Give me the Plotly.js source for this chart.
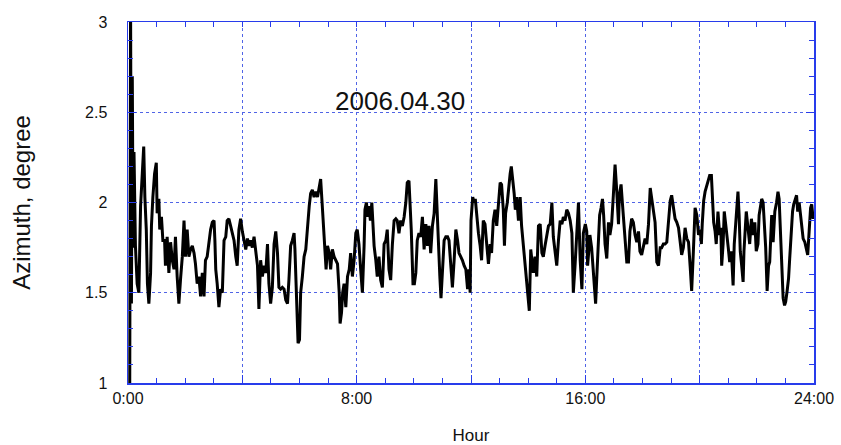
<!DOCTYPE html>
<html>
<head>
<meta charset="utf-8">
<script src="https://cdn.plot.ly/plotly-3.0.1.min.js"></script>
<style>
  html, body { margin: 0; padding: 0; background: #ffffff; }
  #chart { width: 841px; height: 445px; }
</style>
</head>
<body>
<div id="chart"></div>
<script>
// Hours (0-4)
const hoursA = [0.06,0.09,0.12,0.15,0.18,0.21,0.26,0.32,0.38,0.44,0.50,0.55,0.59,0.64,0.68,0.73,0.79,0.82,0.87,0.93,0.99,1.02,1.08,1.11,1.17,1.22,1.28,1.31,1.37,1.43,1.49,1.55,1.61,1.66,1.72,1.78,1.84,1.90,1.96,2.01,2.07,2.13,2.19,2.25,2.31,2.36,2.42,2.48,2.54,2.60,2.66,2.71,2.77,2.83,2.89,2.95,3.01,3.04,3.07,3.12,3.18,3.24,3.30,3.36,3.42,3.47,3.53,3.59,3.65,3.71,3.77,3.82,3.88,3.94];
const azimuthA = [0.95,3.10,1.44,2.70,1.75,2.28,1.76,1.55,1.50,1.98,2.16,2.31,2.03,1.85,1.55,1.44,1.61,1.87,2.03,2.16,2.22,1.94,2.02,1.85,1.92,1.79,1.79,1.65,1.81,1.61,1.78,1.68,1.63,1.81,1.59,1.44,1.58,1.70,1.90,1.70,1.85,1.70,1.74,1.76,1.72,1.66,1.55,1.59,1.48,1.61,1.48,1.68,1.70,1.78,1.85,1.89,1.90,1.79,1.63,1.55,1.42,1.52,1.50,1.79,1.81,1.90,1.91,1.87,1.83,1.79,1.70,1.65,1.85,1.91];

// Hours (4-8)
const hoursB = [4.00,4.06,4.12,4.18,4.23,4.29,4.35,4.41,4.47,4.53,4.58,4.64,4.70,4.76,4.82,4.88,4.93,4.99,5.05,5.11,5.17,5.23,5.28,5.34,5.40,5.46,5.52,5.58,5.63,5.69,5.75,5.81,5.84,5.89,5.95,6.00,6.04,6.10,6.16,6.22,6.28,6.34,6.39,6.45,6.51,6.57,6.63,6.69,6.74,6.79,6.84,6.88,6.93,6.98,7.04,7.09,7.15,7.21,7.27,7.33,7.39,7.42,7.47,7.51,7.56,7.62,7.68,7.74,7.79,7.85,7.91,7.97];
const azimuthB = [1.84,1.79,1.74,1.80,1.76,1.79,1.75,1.81,1.74,1.65,1.41,1.68,1.59,1.65,1.61,1.77,1.55,1.44,1.53,1.77,1.84,1.72,1.53,1.52,1.53,1.52,1.46,1.44,1.57,1.76,1.79,1.83,1.74,1.53,1.22,1.24,1.50,1.59,1.70,1.74,1.87,1.98,2.05,2.07,2.03,2.06,2.03,2.09,2.13,2.00,1.87,1.74,1.63,1.76,1.72,1.63,1.74,1.70,1.68,1.66,1.50,1.33,1.39,1.50,1.55,1.42,1.59,1.63,1.72,1.59,1.68,1.83];

// Hours (8-12)
const hoursC = [8.02,8.08,8.14,8.20,8.26,8.29,8.34,8.39,8.43,8.48,8.53,8.57,8.61,8.67,8.72,8.78,8.84,8.90,8.96,9.02,9.07,9.13,9.19,9.25,9.31,9.37,9.42,9.48,9.54,9.60,9.66,9.72,9.77,9.83,9.87,9.91,9.97,10.02,10.07,10.12,10.18,10.24,10.30,10.36,10.42,10.48,10.53,10.59,10.65,10.71,10.77,10.80,10.85,10.91,10.95,11.00,11.06,11.12,11.18,11.23,11.29,11.35,11.41,11.47,11.53,11.58,11.64,11.70,11.76,11.82,11.88,11.93,11.97];
const azimuthC = [1.85,1.77,1.63,1.50,1.76,1.96,2.00,1.92,1.98,1.90,2.00,1.87,1.76,1.68,1.59,1.70,1.57,1.53,1.77,1.79,1.85,1.63,1.57,1.77,1.90,1.91,1.90,1.83,1.90,1.87,1.92,2.00,2.11,2.12,2.01,1.85,1.55,1.55,1.61,1.79,1.83,1.81,1.92,1.74,1.88,1.76,1.87,1.72,1.87,1.94,2.13,2.00,1.77,1.59,1.47,1.63,1.79,1.81,1.81,1.79,1.66,1.53,1.68,1.85,1.79,1.72,1.70,1.68,1.65,1.63,1.52,1.63,1.50];

// Hours (12-16)
const hoursD = [12.00,12.06,12.11,12.15,12.20,12.26,12.32,12.37,12.43,12.49,12.55,12.61,12.67,12.72,12.78,12.84,12.90,12.96,13.02,13.07,13.13,13.17,13.21,13.27,13.32,13.37,13.41,13.46,13.51,13.55,13.60,13.66,13.72,13.77,13.83,13.89,13.95,14.01,14.04,14.09,14.14,14.18,14.24,14.30,14.36,14.42,14.48,14.53,14.59,14.65,14.71,14.77,14.83,14.88,14.94,15.00,15.06,15.12,15.18,15.23,15.29,15.35,15.41,15.47,15.53,15.58,15.64,15.70,15.76,15.82,15.88,15.93];
const azimuthD = [1.90,2.03,2.00,2.02,1.92,1.83,1.76,1.68,1.90,1.88,1.77,1.66,1.77,1.72,1.90,1.96,1.87,1.98,2.11,2.10,1.96,1.76,1.94,2.00,2.09,2.16,2.20,2.13,2.05,1.96,2.03,1.90,2.03,1.87,1.76,1.65,1.57,1.42,1.40,1.74,1.68,1.61,1.70,1.59,1.87,1.88,1.72,1.70,1.76,1.83,1.87,1.88,2.00,1.81,1.72,1.65,1.79,1.90,1.88,1.92,1.90,1.96,1.94,1.90,1.83,1.50,1.65,1.87,2.00,1.68,1.52,1.83];

// Hours (16-20)
const hoursE = [16.00,16.05,16.08,16.13,16.16,16.22,16.27,16.32,16.36,16.41,16.46,16.50,16.55,16.60,16.64,16.69,16.75,16.81,16.86,16.92,16.98,17.04,17.10,17.16,17.19,17.25,17.30,17.34,17.39,17.45,17.51,17.56,17.62,17.68,17.74,17.80,17.86,17.91,17.97,18.03,18.09,18.15,18.21,18.27,18.32,18.38,18.44,18.50,18.56,18.62,18.67,18.73,18.79,18.85,18.91,18.97,19.02,19.08,19.14,19.20,19.26,19.32,19.37,19.43,19.49,19.55,19.61,19.67,19.72,19.78,19.84,19.90,19.96];
const azimuthE = [1.88,1.84,1.65,1.75,1.82,1.75,1.65,1.51,1.44,1.62,1.80,1.93,1.97,2.02,1.93,1.77,1.69,1.89,1.82,1.88,2.04,2.21,2.06,1.88,2.04,2.10,1.99,1.89,1.77,1.67,1.67,1.84,1.91,1.89,1.82,1.78,1.84,1.73,1.71,1.75,1.80,1.77,1.88,2.08,2.02,1.97,1.89,1.67,1.65,1.75,1.75,1.77,1.77,1.78,1.91,2.01,2.04,1.97,1.91,1.89,1.86,1.78,1.71,1.75,1.86,1.80,1.78,1.64,1.51,1.73,1.97,1.93,1.82];

// Hours (20-24)
const hoursF = [20.02,20.06,20.09,20.14,20.19,20.23,20.29,20.35,20.41,20.44,20.49,20.54,20.58,20.64,20.70,20.74,20.77,20.82,20.86,20.91,20.96,21.00,21.05,21.11,21.17,21.21,21.26,21.31,21.34,21.38,21.42,21.47,21.52,21.55,21.60,21.63,21.69,21.75,21.81,21.87,21.93,21.98,22.04,22.08,22.12,22.17,22.22,22.27,22.31,22.36,22.41,22.45,22.49,22.52,22.57,22.63,22.69,22.74,22.78,22.83,22.87,22.92,22.97,23.01,23.06,23.11,23.15,23.20,23.25,23.29,23.34,23.39,23.43,23.48,23.53,23.57,23.62,23.68,23.74,23.78,23.83,23.88,23.92,23.97,24.00];
const azimuthF = [1.85,1.77,1.88,2.01,2.06,2.08,2.12,2.15,2.15,2.06,1.89,1.84,1.77,1.95,1.82,1.86,1.65,1.77,1.95,1.88,1.82,1.75,1.67,1.73,1.54,1.77,1.88,1.99,2.06,1.93,1.73,1.65,1.56,1.73,1.91,1.95,1.86,1.77,1.91,1.82,1.89,1.73,1.77,1.93,1.97,2.02,2.00,1.88,1.75,1.51,1.65,1.67,1.88,1.93,1.78,1.95,2.00,2.06,2.02,1.80,1.63,1.47,1.43,1.45,1.51,1.58,1.69,1.84,1.95,1.99,2.02,2.04,1.95,2.00,1.93,1.86,1.80,1.78,1.73,1.71,1.84,1.97,1.99,1.91,1.93];

const xTickVals = [0, 4, 8, 12, 16, 20, 24];
const xTickText = ['0:00', '', '8:00', '', '16:00', '', '24:00'];
const dateLabel = '2006.04.30';

const hours = [].concat(hoursA, hoursB, hoursC, hoursD, hoursE, hoursF);
const azimuth = [].concat(azimuthA, azimuthB, azimuthC, azimuthD, azimuthE, azimuthF);

const AXIS_BLUE = 'rgb(40,60,235)';
const GRID_BLUE = 'rgb(80,100,230)';
const FONT = 'Liberation Sans, Arial, Helvetica, sans-serif';

const trace = {
  x: hours,
  y: azimuth,
  type: 'scatter',
  mode: 'lines',
  line: { color: '#000000', width: 3 },
  hoverinfo: 'skip',
  cliponaxis: true
};

const tickOnlyX = {
  range: [0, 24],
  overlaying: 'x',
  side: 'top',
  tickmode: 'array',
  tickvals: xTickVals,
  ticktext: ['', '', '', '', '', '', ''],
  ticks: 'inside',
  ticklen: 8,
  tickwidth: 1,
  tickcolor: AXIS_BLUE,
  showline: false,
  showgrid: false,
  zeroline: false,
  showticklabels: false,
  minor: { tick0: 0, dtick: 1, ticks: 'inside', ticklen: 5, tickcolor: AXIS_BLUE, tickwidth: 1, showgrid: false }
};

const tickOnlyY = {
  range: [1, 3],
  overlaying: 'y',
  side: 'right',
  tick0: 1,
  dtick: 0.5,
  ticks: 'inside',
  ticklen: 8,
  tickwidth: 1,
  tickcolor: AXIS_BLUE,
  showline: false,
  showgrid: false,
  zeroline: false,
  showticklabels: false,
  minor: { tick0: 1, dtick: 0.1, ticks: 'inside', ticklen: 5, tickcolor: AXIS_BLUE, tickwidth: 1, showgrid: false }
};

const layout = {
  width: 841,
  height: 445,
  margin: { l: 128, r: 27, t: 22, b: 62 },
  paper_bgcolor: '#ffffff',
  plot_bgcolor: '#ffffff',
  showlegend: false,
  font: { family: FONT, color: '#111111' },
  xaxis: {
    range: [0, 24],
    tickmode: 'array',
    tickvals: xTickVals,
    ticktext: xTickText,
    ticks: 'inside',
    ticklen: 8,
    tickwidth: 1,
    tickcolor: AXIS_BLUE,
    showline: true,
    linecolor: AXIS_BLUE,
    linewidth: 1.5,
    mirror: true,
    showgrid: true,
    gridcolor: GRID_BLUE,
    griddash: 'dot',
    gridwidth: 1,
    zeroline: false,
    tickfont: { family: FONT, size: 16, color: '#111111' },
    ticklabelstandoff: 0,
    minor: { tick0: 0, dtick: 1, ticks: 'inside', ticklen: 5, tickcolor: AXIS_BLUE, tickwidth: 1, showgrid: false },
    title: { text: 'Hour', font: { family: FONT, size: 17, color: '#111111' }, standoff: 25 },
    automargin: false
  },
  xaxis2: tickOnlyX,
  yaxis: {
    range: [1, 3],
    tick0: 1,
    dtick: 0.5,
    ticks: 'inside',
    ticklen: 8,
    tickwidth: 1,
    tickcolor: AXIS_BLUE,
    showline: true,
    linecolor: AXIS_BLUE,
    linewidth: 1.5,
    mirror: true,
    showgrid: true,
    gridcolor: GRID_BLUE,
    griddash: 'dot',
    gridwidth: 1,
    zeroline: false,
    tickfont: { family: FONT, size: 16, color: '#111111' },
    ticklabelstandoff: 16,
    minor: { tick0: 1, dtick: 0.1, ticks: 'inside', ticklen: 5, tickcolor: AXIS_BLUE, tickwidth: 1, showgrid: false },
    title: { text: 'Azimuth, degree', font: { family: FONT, size: 24, color: '#111111' }, standoff: 47 },
    automargin: false
  },
  yaxis2: tickOnlyY,
  annotations: [{
    x: 9.5,
    y: 2.56,
    xref: 'x',
    yref: 'y',
    text: dateLabel,
    showarrow: false,
    xanchor: 'center',
    yanchor: 'middle',
    font: { family: FONT, size: 26, color: '#111111' }
  }]
};

const ghost = { x: [0, 24], y: [1, 3], xaxis: 'x2', yaxis: 'y2', type: 'scatter', mode: 'lines', line: { width: 0, color: 'rgba(0,0,0,0)' }, hoverinfo: 'skip', showlegend: false };

Plotly.newPlot('chart', [ghost, trace], layout, { displayModeBar: false, staticPlot: true });
</script>
</body>
</html>
